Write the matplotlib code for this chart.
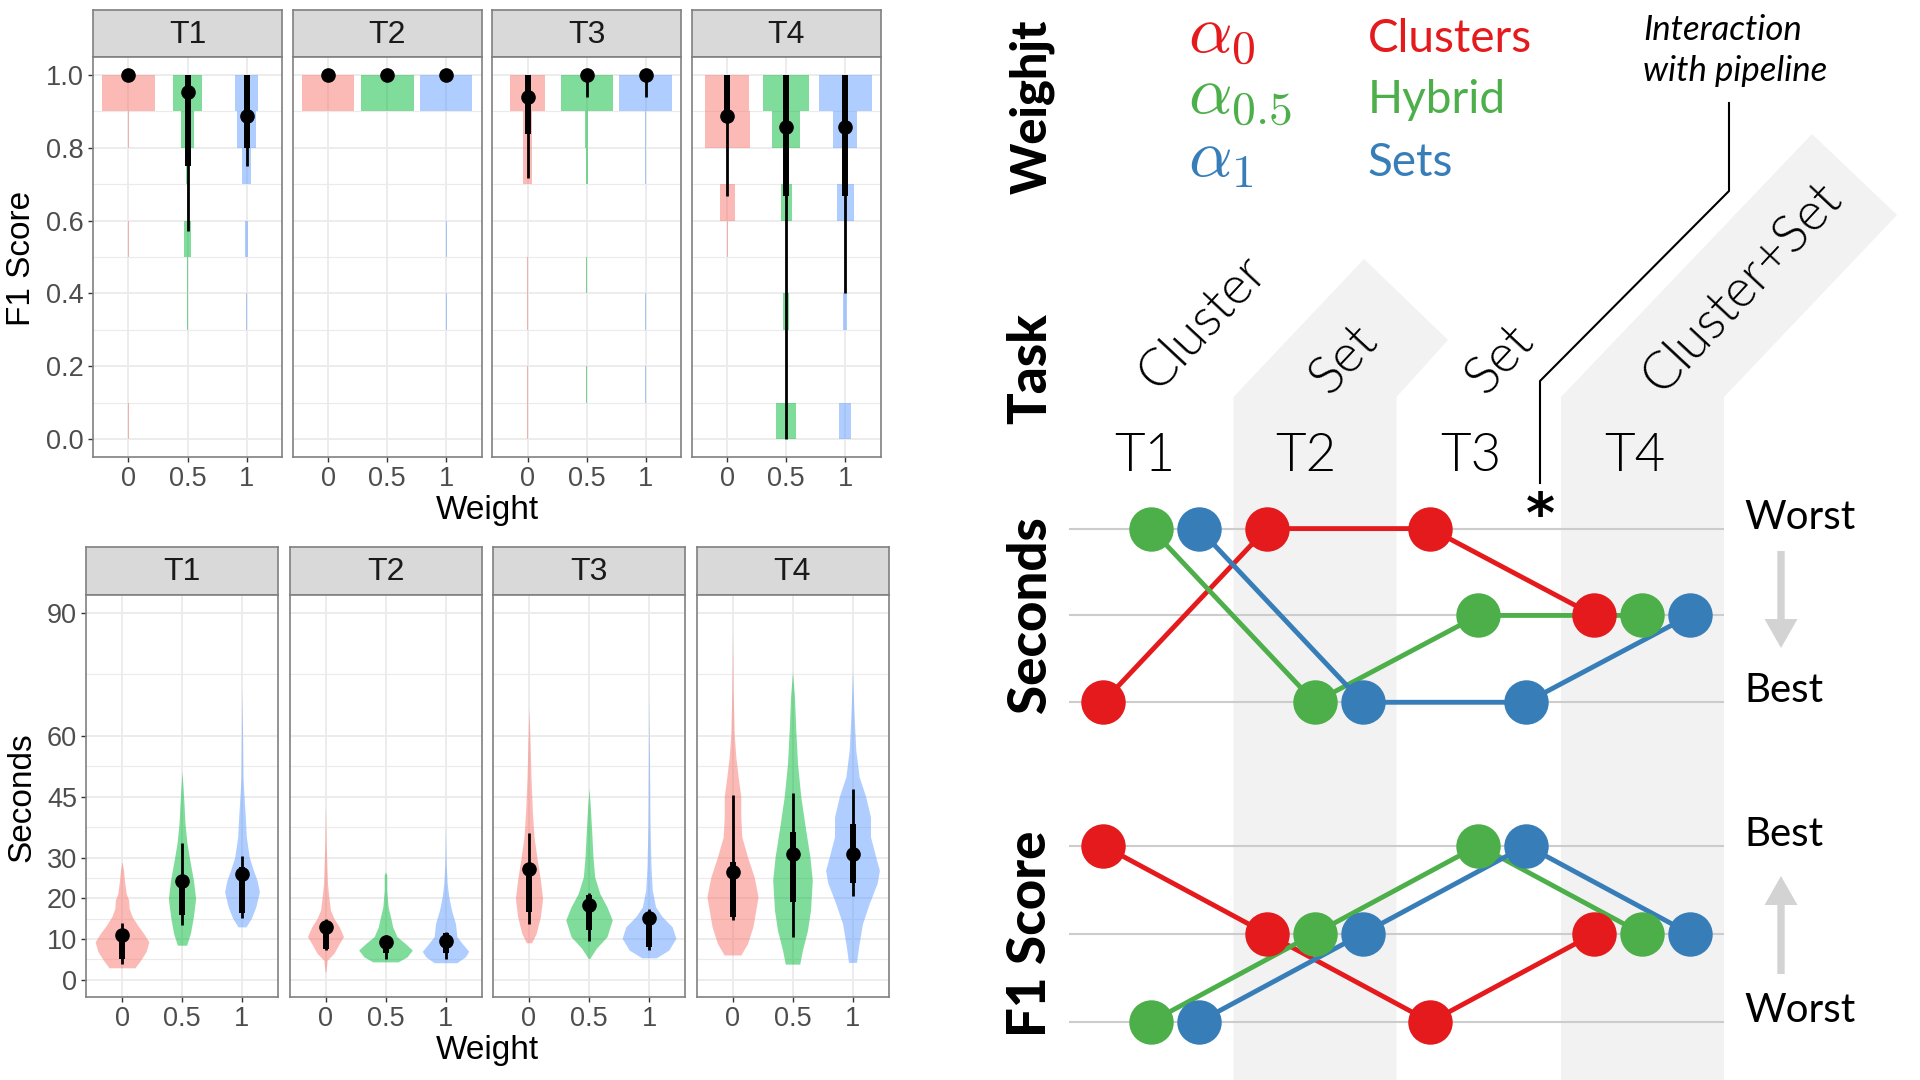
import numpy as np
import matplotlib.pyplot as plt
from matplotlib.patches import Polygon, FancyArrow

plt.rcParams['mathtext.fontset'] = 'cm'
plt.rcParams['font.family'] = ['Liberation Sans', 'DejaVu Sans']

W, H = 1920, 1080

# ---------------- left side: facets by task, three weights each ----------------
tasks = ['T1', 'T2', 'T3', 'T4']
weights = ['0', '0.5', '1']
hue = ['#F8766D', '#00BA38', '#619CFF']

# F1 score: relative bin size (bins of 0.1 starting at these edges)
f1_bins = [0.0, 0.1, 0.2, 0.3, 0.4, 0.5, 0.6, 0.7, 0.8, 0.9]
f1_hist_T1 = [[0.02, 0, 0, 0, 0, 0.02, 0, 0, 0.02, 1.0],
              [0, 0, 0, 0.02, 0.02, 0.145, 0.03, 0.075, 0.23, 0.53],
              [0, 0, 0, 0.02, 0, 0.04, 0, 0.18, 0.35, 0.42]]
f1_hist_T2 = [[0.015, 0, 0, 0, 0, 0.015, 0, 0, 0.015, 0.99],
              [0, 0, 0, 0.015, 0, 0.015, 0, 0, 0, 1.0],
              [0, 0, 0, 0.015, 0, 0.015, 0, 0, 0, 0.99]]
f1_hist_T3 = [[0.015, 0.02, 0, 0.02, 0.02, 0, 0, 0.17, 0.17, 0.67],
              [0, 0.015, 0, 0, 0.015, 0, 0, 0.04, 0.05, 0.98],
              [0, 0.015, 0, 0.015, 0, 0, 0, 0.02, 0.02, 0.99]]
f1_hist_T4 = [[0, 0, 0, 0, 0, 0.02, 0.28, 0, 0.84, 0.82],
              [0.37, 0, 0, 0.12, 0, 0, 0.2, 0, 0.52, 0.87],
              [0.23, 0, 0, 0.08, 0, 0, 0.33, 0, 0.45, 1.0]]
f1_hist = [f1_hist_T1, f1_hist_T2, f1_hist_T3, f1_hist_T4]

f1_median = [[1.0, 0.953, 0.888], [1.0, 1.0, 1.0], [0.94, 1.0, 1.0], [0.888, 0.857, 0.857]]
f1_thick = [[(1.0, 1.0), (0.751, 1.0), (0.80, 1.0)],
            [(1.0, 1.0), (1.0, 1.0), (1.0, 1.0)],
            [(0.837, 1.0), (1.0, 1.0), (1.0, 1.0)],
            [(0.867, 1.0), (0.667, 1.0), (0.667, 1.0)]]
f1_thin = [[(1.0, 1.0), (0.572, 1.0), (0.75, 1.0)],
           [(1.0, 1.0), (1.0, 1.0), (1.0, 1.0)],
           [(0.716, 1.0), (0.94, 1.0), (0.94, 1.0)],
           [(0.667, 1.0), (0.0, 1.0), (0.4, 1.0)]]

# Seconds: violin outlines, read as (seconds, half width) pairs
sec_T1_y = [[2.95, 4.8, 6.9, 9.3, 11.4, 13.4, 15.5, 17.5, 19.6, 21.2, 24.5, 27.0, 29.0],
            [8.5, 11.4, 15.5, 20.0, 24.5, 28.6, 33.5, 38.4, 43.3, 47.4, 51.1],
            [13.0, 15.1, 17.9, 21.6, 24.5, 26.9, 30.2, 35.1, 40.0, 46.6, 49.9, 58.9, 71.2]]
sec_T1_w = [[0.216, 0.31, 0.40, 0.448, 0.36, 0.26, 0.17, 0.12, 0.11, 0.07, 0.04, 0.025, 0.0],
            [0.077, 0.14, 0.19, 0.227, 0.19, 0.14, 0.083, 0.05, 0.033, 0.017, 0.0],
            [0.066, 0.155, 0.23, 0.29, 0.25, 0.19, 0.12, 0.072, 0.055, 0.028, 0.017, 0.011, 0.0]]
sec_T2_y = [[2.0, 4.8, 6.5, 8.9, 10.6, 13.0, 15.1, 17.1, 20.4, 23.7, 28.6, 33.5, 42.5],
            [4.4, 5.65, 7.3, 8.9, 10.6, 13.0, 15.5, 17.9, 22.0, 25.7, 26.5],
            [4.2, 5.65, 7.0, 8.9, 10.6, 13.8, 17.1, 20.4, 23.7, 28.6, 37.6]]
sec_T2_w = [[0.008, 0.028, 0.14, 0.23, 0.30, 0.23, 0.14, 0.083, 0.055, 0.033, 0.022, 0.011, 0.0],
            [0.21, 0.36, 0.448, 0.33, 0.19, 0.12, 0.083, 0.044, 0.022, 0.022, 0.0],
            [0.19, 0.33, 0.387, 0.28, 0.19, 0.166, 0.10, 0.055, 0.028, 0.011, 0.0]]
sec_T3_y = [[9.1, 11.4, 15.5, 20.0, 24.5, 29.4, 35.1, 41.7, 49.9, 58.9, 66.7],
            [5.2, 7.7, 10.6, 14.7, 17.9, 21.2, 25.3, 30.2, 36.8, 42.5, 47.0],
            [5.4, 7.3, 10.2, 13.0, 15.5, 17.9, 22.0, 27.8, 38.4, 54.8, 70.4]]
sec_T3_w = [[0.044, 0.12, 0.19, 0.227, 0.19, 0.138, 0.083, 0.055, 0.033, 0.017, 0.0],
            [0.011, 0.12, 0.30, 0.387, 0.30, 0.18, 0.094, 0.066, 0.044, 0.022, 0.0],
            [0.12, 0.33, 0.448, 0.387, 0.22, 0.11, 0.055, 0.033, 0.017, 0.008, 0.0]]
sec_T4_y = [[6.1, 8.9, 13.0, 20.4, 25.3, 30.2, 35.1, 40.0, 45.0, 49.9, 54.8, 60.5, 71.2, 85.1],
            [3.85, 7.3, 12.2, 17.1, 24.5, 30.2, 36.8, 45.0, 53.2, 61.3, 69.5, 75.7],
            [4.26, 8.9, 13.8, 18.8, 23.7, 26.9, 30.2, 35.1, 40.0, 45.0, 49.9, 56.4, 64.6, 76.1]]
sec_T4_w = [[0.14, 0.25, 0.34, 0.426, 0.36, 0.25, 0.155, 0.138, 0.138, 0.094, 0.055, 0.028, 0.011, 0.0],
            [0.12, 0.166, 0.25, 0.30, 0.33, 0.29, 0.22, 0.138, 0.083, 0.055, 0.033, 0.0],
            [0.066, 0.11, 0.166, 0.28, 0.41, 0.448, 0.387, 0.30, 0.30, 0.22, 0.11, 0.055, 0.028, 0.0]]
sec_y = [sec_T1_y, sec_T2_y, sec_T3_y, sec_T4_y]
sec_w = [sec_T1_w, sec_T2_w, sec_T3_w, sec_T4_w]

sec_median = [[11.0, 24.2, 26.1], [13.0, 9.2, 9.6], [27.1, 18.3, 15.2], [26.5, 30.8, 30.8]]
sec_thick = [[(5.0, 11.4), (15.9, 25.5), (16.3, 27.8)],
             [(7.5, 14.5), (6.5, 10.6), (6.5, 11.4)],
             [(16.7, 28.2), (12.2, 20.8), (8.1, 16.3)],
             [(15.5, 29.0), (19.2, 36.3), (23.9, 38.2)]]
sec_thin = [[(3.85, 14.0), (13.4, 33.7), (15.3, 30.5)],
            [(7.3, 15.0), (5.2, 11.0), (5.2, 11.8)],
            [(13.6, 36.1), (9.6, 21.2), (7.3, 17.5)],
            [(14.8, 45.4), (10.4, 45.9), (20.6, 46.8)]]

# ---------------- right side: rank summary ----------------
methods = ['Clusters', 'Hybrid', 'Sets']
method_sym = [r'$\alpha_0$', r'$\alpha_{0.5}$', r'$\alpha_1$']
method_col = ['#e41a1c', '#4daf4a', '#377eb8']
task_kind = ['Cluster', 'Set', 'Set', 'Cluster+Set']
# 1 = best, 3 = worst (seconds); 3 = best, 1 = worst (F1)
rank_sec = [[1, 3, 3, 2], [3, 1, 2, 2], [3, 1, 1, 2]]
rank_f1 = [[3, 2, 1, 2], [1, 2, 3, 2], [1, 2, 3, 2]]

fig = plt.figure(figsize=(19.2, 10.8), dpi=100)


def px_axes(x0, y0, x1, y1, **kw):
    return fig.add_axes([x0 / W, 1 - y1 / H, (x1 - x0) / W, (y1 - y0) / H], **kw)


def facet(x0, y0, x1, y1, strip_h, title, first):
    st = px_axes(x0, y0 - strip_h, x1, y0)
    st.set_facecolor('#d9d9d9')
    st.set_xticks([])
    st.set_yticks([])
    for s in st.spines.values():
        s.set_color('#808080')
        s.set_linewidth(1.2)
    st.text(0.5, 0.47, title, ha='center', va='center', fontsize=23,
            color='#1a1a1a', transform=st.transAxes)
    ax = px_axes(x0, y0, x1, y1)
    for s in ax.spines.values():
        s.set_color('#808080')
        s.set_linewidth(1.2)
    ax.set_xlim(0.4, 3.6)
    ax.set_xticks([1, 2, 3], weights)
    ax.set_axisbelow(True)
    ax.grid(which='major', color='#ebebeb', lw=1.3)
    ax.grid(which='minor', axis='y', color='#ebebeb', lw=0.8)
    ax.tick_params(which='major', length=3.5, width=1, color='#333333',
                   labelcolor='#4d4d4d', labelsize=19.5, pad=3)
    ax.tick_params(which='minor', length=0)
    if not first:
        ax.tick_params(axis='y', left=False, labelleft=False)
    return ax


# top row: F1 score
for i, t in enumerate(tasks):
    x0 = 93 + i * 199.6
    ax = facet(x0, 56.8, x0 + 189, 457.3, 46.5, t, i == 0)
    ax.set_ylim(-0.05, 1.05)
    ax.set_yticks([0, 0.2, 0.4, 0.6, 0.8, 1.0], ['0.0', '0.2', '0.4', '0.6', '0.8', '1.0'])
    ax.set_yticks([0.1, 0.3, 0.5, 0.7, 0.9], minor=True)
    for j in range(3):
        ax.bar(np.full(10, j + 1), 0.1, width=0.9 * np.array(f1_hist[i][j]),
               bottom=f1_bins, color=hue[j], alpha=0.5, lw=0)
    for j in range(3):
        ax.plot([j + 1, j + 1], f1_thin[i][j], color='black', lw=2, solid_capstyle='butt')
        ax.plot([j + 1, j + 1], f1_thick[i][j], color='black', lw=4.3, solid_capstyle='butt')
        ax.plot(j + 1, f1_median[i][j], 'o', color='black', ms=9.5, clip_on=False)

# bottom row: seconds
for i, t in enumerate(tasks):
    x0 = 86 + i * 203.5
    ax = facet(x0, 595.1, x0 + 192, 997.3, 48.2, t, i == 0)
    ax.set_ylim(-4.3, 94.5)
    ax.set_yticks([0, 10, 20, 30, 45, 60, 90])
    ax.set_yticks([5, 15, 25, 37.5, 52.5, 75], minor=True)
    for j in range(3):
        y = np.array(sec_y[i][j])
        w = np.array(sec_w[i][j])
        ax.fill_betweenx(y, j + 1 - w, j + 1 + w, color=hue[j], alpha=0.5, lw=0)
    for j in range(3):
        ax.plot([j + 1, j + 1], sec_thin[i][j], color='black', lw=2, solid_capstyle='butt')
        ax.plot([j + 1, j + 1], sec_thick[i][j], color='black', lw=4.3, solid_capstyle='butt')
        ax.plot(j + 1, sec_median[i][j], 'o', color='black', ms=9.5)

# decoration layer in pixel coordinates
deco = fig.add_axes([0, 0, 1, 1], zorder=-1)
deco.set_xlim(0, W)
deco.set_ylim(H, 0)
deco.axis('off')

deco.text(22, 258, 'F1 Score', rotation=90, ha='center', va='center', fontsize=24)
deco.text(22, 797, 'Seconds', rotation=90, ha='center', va='center', fontsize=24)
deco.text(487, 510, 'Weight', ha='center', va='center', fontsize=24)
deco.text(487, 1050, 'Weight', ha='center', va='center', fontsize=24)

# shaded task bands for T2 and T4
band = '#f2f2f2'
deco.add_patch(Polygon([(1233.5, H), (1233.5, 397), (1364, 259), (1448, 340),
                        (1396.5, 397), (1396.5, H)], closed=True, color=band, lw=0))
deco.add_patch(Polygon([(1561, H), (1561, 397), (1812, 134), (1897, 215),
                        (1724, 397), (1724, H)], closed=True, color=band, lw=0))

rf = 'Lato'
# row headers
for lab, yc, fs in [('Weighjt', 107, 35), ('Task', 369, 38), ('Seconds', 615, 38),
                    ('F1 Score', 934, 38)]:
    deco.text(1046, yc, lab, rotation=90, rotation_mode='anchor', ha='center',
              va='baseline', fontsize=fs, fontweight='black', family=rf)

# legend of weights
for k in range(3):
    yb = [52, 113, 176][k]
    deco.text(1188, yb, method_sym[k], color=method_col[k], fontsize=49, va='baseline')
    deco.text(1368, yb, methods[k], color=method_col[k], fontsize=33, va='baseline', family=rf)

deco.text(1643, 40, 'Interaction', fontsize=25, style='italic', va='baseline', family=rf)
deco.text(1643, 81, 'with pipeline', fontsize=25, style='italic', va='baseline', family=rf)
deco.plot([1729, 1729, 1540, 1540], [103, 191, 381, 483], color='black', lw=1.5)
deco.text(1540, 532, '*', fontsize=40, fontweight='bold', ha='center', va='baseline',
          family='DejaVu Sans')

# task kinds (rotated) and task names
kind_pos = [(1203, 322), (1344, 359), (1500, 359), (1742, 287)]
for k, (xc, yc) in enumerate(kind_pos):
    deco.text(xc, yc, task_kind[k], rotation=47, ha='center', va='center',
              fontsize=38, fontweight=300, family=rf)
for k, xc in enumerate([1144.5, 1306, 1471, 1635]):
    deco.text(xc, 470.7, tasks[k], ha='center', va='baseline', fontsize=38,
              fontweight=300, family=rf)

# best / worst markers
arrow_col = '#d3d3d3'
deco.add_patch(FancyArrow(1781, 551, 0, 97, width=7.4, head_width=33, head_length=29,
                          length_includes_head=True, color=arrow_col, lw=0))
deco.add_patch(FancyArrow(1781, 974, 0, -98, width=7.4, head_width=33, head_length=29,
                          length_includes_head=True, color=arrow_col, lw=0))
for lab, yb in [('Worst', 529), ('Best', 702), ('Best', 845.5), ('Worst', 1022)]:
    deco.text(1744, yb, lab, fontsize=29, va='baseline', family=rf)

# rank panels
offs = [-0.293, 0.0, 0.293]
ax_sec = px_axes(1069, 485, 1724, 745, zorder=2)
ax_sec.set_ylim(0.508, 3.502)
ax_f1 = px_axes(1069, 800, 1724, 1065, zorder=2)
ax_f1.set_ylim(0.511, 3.516)
for ax, rk in [(ax_sec, rank_sec), (ax_f1, rank_f1)]:
    ax.set_xlim(0.5, 4.5)
    ax.axis('off')
    ax.hlines([1, 2, 3], 0.5, 4.5, color='#cccccc', lw=1.5, zorder=1)
    for m in range(3):
        xs = np.arange(1, 5) + offs[m]
        ax.plot(xs, rk[m], color=method_col[m], lw=3.5, zorder=2, clip_on=False)
    for m in range(3):
        xs = np.arange(1, 5) + offs[m]
        ax.plot(xs, rk[m], 'o', color=method_col[m], ms=32, mew=0, zorder=3, clip_on=False)

fig.savefig('out.png', dpi=100)
